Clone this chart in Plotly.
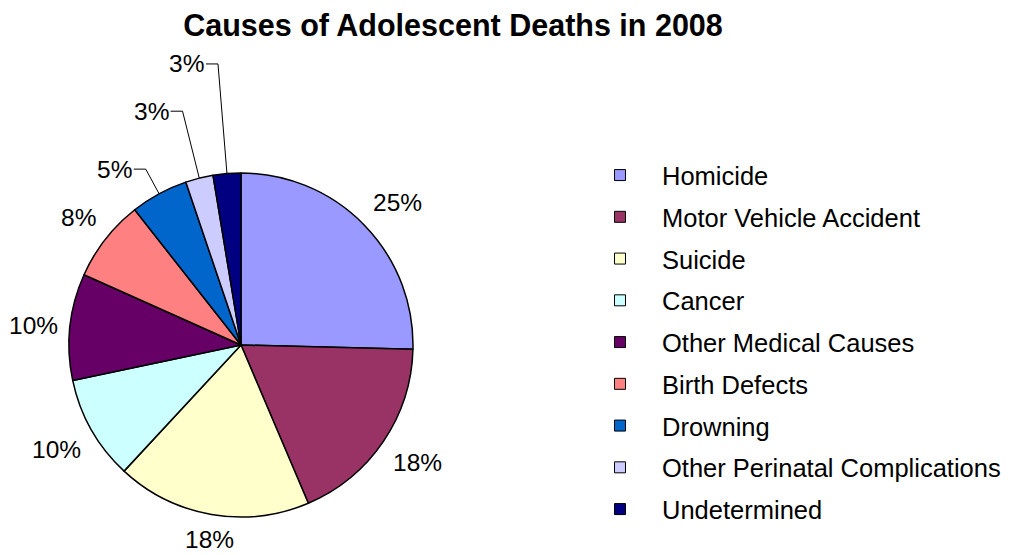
import math
import plotly.graph_objects as go

categories = ["Homicide", "Motor Vehicle Accident", "Suicide", "Cancer",
              "Other Medical Causes", "Birth Defects", "Drowning",
              "Other Perinatal Complications", "Undetermined"]
values = [25.4, 18.2, 18.3, 9.8, 10.0, 7.7, 5.4, 2.6, 2.6]
colors = ["#9999FF", "#993366", "#FFFFCC", "#CCFFFF", "#660066",
          "#FF8080", "#0066CC", "#CCCCFF", "#000080"]

W, H = 1013, 555
FONT = "Liberation Sans, Arial, sans-serif"

# pie geometry (figure pixels)
CX, CY, R = 233, 337, 172
GAP = 11            # label distance beyond the rim
SMALL = 0.06        # slices below this share get a leader line
LEAD_BASE, LEAD_STEP, TICK = 28, 41, 12
LABEL_SIZE = 24.5


def px(x, y):
    return x / W, 1 - y / H


fig = go.Figure()
x0, y0 = px(CX - R, CY + R)
x1, y1 = px(CX + R, CY - R)
fig.add_trace(go.Pie(
    labels=categories, values=values, sort=False, direction="clockwise",
    rotation=0,
    marker=dict(colors=colors, line=dict(color="black", width=1.5)),
    textinfo="none", showlegend=False, hoverinfo="label+percent",
    domain=dict(x=[x0, x1], y=[y0, y1]),
))

# percentage labels computed from the slice angles
total = sum(values)
cum = 0.0
k = 0
annotations = []
shapes = []
for v in values:
    frac = v / total
    mid = cum + frac / 2
    cum += frac
    th = 2 * math.pi * mid
    s, c = math.sin(th), math.cos(th)   # c > 0 means upward
    txt = f"{round(100 * frac)}%"
    if frac >= SMALL:
        d = R + GAP
        lx, ly = CX + d * s, CY - d * c
        xa = "left" if s > 0.3 else ("right" if s < -0.3 else "center")
        ya = "bottom" if c > 0.3 else ("top" if c < -0.3 else "middle")
        ax, ay = px(lx, ly)
        annotations.append(dict(x=ax, y=ay, xref="paper", yref="paper",
                                text=txt, showarrow=False, xanchor=xa,
                                yanchor=ya, borderpad=0,
                                font=dict(family=FONT, size=LABEL_SIZE,
                                          color="black")))
    else:
        ext = LEAD_BASE + LEAD_STEP * k
        k += 1
        ex, ey = CX + R * s, CY - R * c
        tx, ty = CX + (R + ext) * s, CY - (R + ext) * c
        hx = tx - TICK if s < 0 else tx + TICK
        p = [px(ex, ey), px(tx, ty), px(hx, ty)]
        path = "M {} {} L {} {} L {} {}".format(p[0][0], p[0][1], p[1][0],
                                                  p[1][1], p[2][0], p[2][1])
        shapes.append(dict(type="path", path=path, xref="paper",
                           yref="paper", line=dict(color="black", width=1)))
        annotations.append(dict(x=p[2][0], y=p[2][1], xref="paper",
                                yref="paper", text=txt, showarrow=False,
                                xanchor="right" if s < 0 else "left",
                                yanchor="middle", borderpad=0,
                                xshift=-1 if s < 0 else 1,
                                font=dict(family=FONT, size=LABEL_SIZE,
                                          color="black")))

# legend entries (one group each to reproduce the spacing)
for name, col in zip(categories, colors):
    fig.add_trace(go.Scatter(
        x=[None], y=[None], mode="markers", name=name, legendgroup=name,
        marker=dict(symbol="square", size=11, color=col,
                    line=dict(color="black", width=1)),
    ))

fig.update_layout(
    width=W, height=H,
    margin=dict(l=0, r=0, t=0, b=0),
    paper_bgcolor="white", plot_bgcolor="white",
    title=dict(text="<b>Causes of Adolescent Deaths in 2008</b>",
               x=445 / W, xanchor="center", y=1 - 17 / H, yanchor="middle",
               font=dict(family=FONT, size=30.5, color="black")),
    xaxis=dict(visible=False), yaxis=dict(visible=False),
    annotations=annotations, shapes=shapes,
    legend=dict(x=570 / W, xanchor="left", y=1 - 144 / H, yanchor="top",
                font=dict(family=FONT, size=25.5, color="black"),
                tracegroupgap=5.6, itemwidth=74, traceorder="grouped",
                bgcolor="rgba(0,0,0,0)"),
)

fig.write_html("out.html")
